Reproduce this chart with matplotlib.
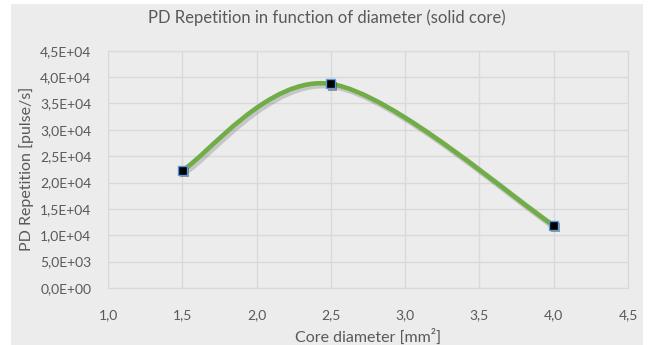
import matplotlib.pyplot as plt
import matplotlib.patheffects as pe
from matplotlib.path import Path
from matplotlib.patches import PathPatch, Rectangle
from matplotlib.ticker import FuncFormatter

# Measured PD repetition rate against core diameter
diameter = [1.5, 2.5, 4.0]
pd_rate = [22300, 38700, 11850]

x_ticks = [1.0, 1.5, 2.0, 2.5, 3.0, 3.5, 4.0, 4.5]
y_ticks = [0, 5000, 10000, 15000, 20000, 25000, 30000, 35000, 40000, 45000]

bg = "#ececec"
txt = "#595959"
grid_c = "#d9d9d9"
plt.rcParams["font.family"] = ["Lato", "DejaVu Sans"]

fig = plt.figure(figsize=(6.48, 3.45), dpi=100)
fig.patch.set_facecolor("white")
# grey chart area with a thin white margin around it
fig.patches.append(Rectangle((11 / 648, 0), 632 / 648, 341 / 345, transform=fig.transFigure,
                             facecolor=bg, edgecolor="none", zorder=-5))

ax = fig.add_axes([0.1667, 0.1652, 0.8025, 0.6878])
ax.set_facecolor(bg)

ax.set_xlim(1.0, 4.5)
ax.set_ylim(0, 45000)
ax.set_xticks(x_ticks)
ax.set_yticks(y_ticks)
ax.xaxis.set_major_formatter(FuncFormatter(lambda v, p: f"{v:.1f}".replace(".", ",")))
ax.yaxis.set_major_formatter(FuncFormatter(lambda v, p: f"{v:.1E}".replace(".", ",")))
ax.grid(True, color=grid_c, linewidth=1)
ax.set_axisbelow(True)
for s in ax.spines.values():
    s.set_color(grid_c)
ax.tick_params(length=0, colors=txt, labelsize=10, pad=12)
ax.tick_params(axis="x", pad=15)

# Excel-style smoothed line: cubic Bezier segments through the points
pts = list(zip(diameter, pd_rate))
verts = [pts[0]]
codes = [Path.MOVETO]
n = len(pts)
for i in range(n - 1):
    p0 = pts[i - 1] if i > 0 else pts[i]
    p1 = pts[i]
    p2 = pts[i + 1]
    p3 = pts[i + 2] if i + 2 < n else pts[i + 1]
    c1 = (p1[0] + (p2[0] - p0[0]) / 6, p1[1] + (p2[1] - p0[1]) / 6)
    c2 = (p2[0] - (p3[0] - p1[0]) / 6, p2[1] - (p3[1] - p1[1]) / 6)
    verts += [c1, c2, p2]
    codes += [Path.CURVE4] * 3

shadow = [pe.SimpleLineShadow(offset=(1.5, -1.5), shadow_color="#404040", alpha=0.22, linewidth=4.5),
          pe.Normal()]
curve = PathPatch(Path(verts, codes), facecolor="none", edgecolor="#70ad47",
                  linewidth=3.3, capstyle="round", path_effects=shadow)
ax.add_patch(curve)

ax.plot(diameter, pd_rate, linestyle="none", marker="s", markersize=6.5,
        markerfacecolor="black", markeredgecolor="#5b9bd5", markeredgewidth=1,
        path_effects=[pe.SimplePatchShadow(offset=(1.5, -1.5), alpha=0.35), pe.Normal()],
        zorder=5)

fig.text(0.505, 0.95, "PD Repetition in function of diameter (solid core)", fontsize=12,
         color=txt, ha="center", va="center")
ax.set_xlabel("Core diameter [mm²]", fontsize=11.5, color=txt, labelpad=6)
ax.set_ylabel("PD Repetition [pulse/s]", fontsize=11.5, color=txt, labelpad=4)

fig.savefig("out.png", dpi=100, facecolor="white")
